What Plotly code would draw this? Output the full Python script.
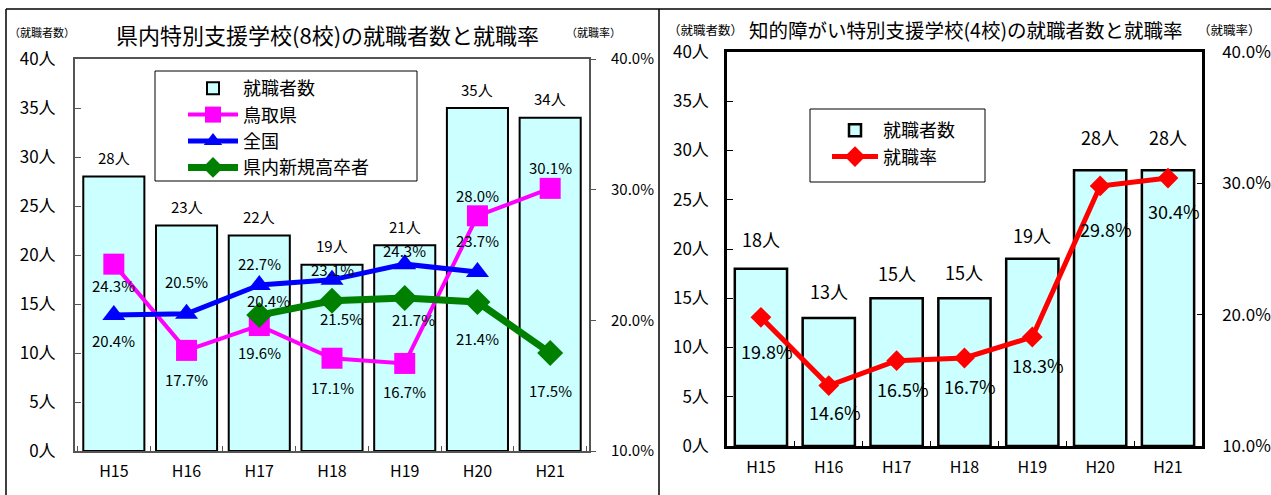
import plotly.graph_objects as go

# ---- data -------------------------------------------------------------
years = ["H15", "H16", "H17", "H18", "H19", "H20", "H21"]

# 県内特別支援学校(8校)
employed_8 = [28, 23, 22, 19, 21, 35, 34]
rate_tottori = [24.3, 17.7, 19.6, 17.1, 16.7, 28.0, 30.1]
rate_national = [20.4, 20.5, 22.7, 23.1, 24.3, 23.7]
years_national = years[:6]
rate_highschool = [20.4, 21.5, 21.7, 21.4, 17.5]
years_highschool = years[2:]

# 知的障がい特別支援学校(4校)
employed_4 = [18, 13, 15, 15, 19, 28, 28]
rate_4 = [19.8, 14.6, 16.5, 16.7, 18.3, 29.8, 30.4]

count_ticks = [0, 5, 10, 15, 20, 25, 30, 35, 40]
count_tick_text = [f"{v}人" for v in count_ticks]
rate_ticks = [10, 20, 30, 40]
rate_tick_text = [f"{v:.1f}%" for v in rate_ticks]

# ---- styling ----------------------------------------------------------
W, H = 1271, 495
FONT = "Noto Sans CJK JP"
BAR_FILL = "#CCFFFF"


def fx(p):
    return p / W


def fy(p):
    return 1 - p / H


# label offsets in px (positive = upwards), x nudges in px
off_tottori = [-21, -29, -27, -29, -28, 20, 21]
off_national = [-25, 32, 22, 10, 14, 31]
off_high = [15, -18, -21, -36, -37]
dx_high = [9, 9, 9, 0, 0]
off_rate4 = [-34, -26, -28, -28, -28, -43, -33]
off_bar4 = [30, 27, 25, 26, 24, 33, 33]

fig = go.Figure()

# left chart -------------------------------------------------------------
fig.add_trace(go.Bar(
    x=years, y=employed_8, name="就職者数",
    marker=dict(color=BAR_FILL, line=dict(color="black", width=2)),
    xaxis="x", yaxis="y", legend="legend",
))
fig.add_trace(go.Scatter(
    x=years, y=rate_tottori, name="鳥取県", mode="lines+markers",
    line=dict(color="#FF00FF", width=4),
    marker=dict(symbol="square", size=21, color="#FF00FF"),
    xaxis="x", yaxis="y2", legend="legend",
))
fig.add_trace(go.Scatter(
    x=years_national, y=rate_national, name="全国", mode="lines+markers",
    line=dict(color="#0000FF", width=5),
    marker=dict(symbol="triangle-up", size=20, color="#0000FF"),
    xaxis="x", yaxis="y2", legend="legend",
))
fig.add_trace(go.Scatter(
    x=years_highschool, y=rate_highschool, name="県内新規高卒者",
    mode="lines+markers",
    line=dict(color="#008000", width=7),
    marker=dict(symbol="diamond", size=20, color="#008000"),
    xaxis="x", yaxis="y2", legend="legend",
))

# right chart ------------------------------------------------------------
fig.add_trace(go.Bar(
    x=years, y=employed_4, name="就職者数", width=0.77,
    marker=dict(color=BAR_FILL, line=dict(color="black", width=2.5)),
    xaxis="x3", yaxis="y3", legend="legend2",
))
fig.add_trace(go.Scatter(
    x=years, y=rate_4, name="就職率", mode="lines+markers",
    line=dict(color="#FF0000", width=5),
    marker=dict(symbol="diamond", size=16, color="#FF0000"),
    xaxis="x3", yaxis="y4", legend="legend2",
))

annotations = []


def label(x, y, text, xref, yref, size, yshift, xshift=0):
    annotations.append(dict(
        x=x, y=y, xref=xref, yref=yref, text=text, showarrow=False,
        yshift=yshift, xshift=xshift,
        font=dict(family=FONT, size=size, color="black"),
    ))


for x, v in zip(years, employed_8):
    label(x, v, f"{v}人", "x", "y", 15, 19)
for x, v, o in zip(years, rate_tottori, off_tottori):
    label(x, v, f"{v:.1f}%", "x", "y2", 15, o)
for x, v, o in zip(years_national, rate_national, off_national):
    label(x, v, f"{v:.1f}%", "x", "y2", 15, o)
for x, v, o, d in zip(years_highschool, rate_highschool, off_high, dx_high):
    label(x, v, f"{v:.1f}%", "x", "y2", 15, o, d)

for x, v, o in zip(years, employed_4, off_bar4):
    label(x, v, f"{v}人", "x3", "y3", 18, o)
for x, v, o in zip(years, rate_4, off_rate4):
    label(x, v, f"{v:.1f}%", "x3", "y4", 18, o, 6)


# titles and axis captions
def paper_text(xp, yp, text, size):
    annotations.append(dict(
        x=fx(xp), y=fy(yp), xref="paper", yref="paper", text=text,
        showarrow=False, xanchor="center", yanchor="middle",
        font=dict(family=FONT, size=size, color="black"),
    ))


paper_text(327, 34, "県内特別支援学校(8校)の就職者数と就職率", 22)
paper_text(42, 32, "（就職者数）", 11)
paper_text(593, 32, "（就職率）", 11)
paper_text(966, 29, "知的障がい特別支援学校(4校)の就職者数と就職率", 19.5)
paper_text(705, 29, "（就職者数）", 12.5)
paper_text(1229, 29, "（就職率）", 12.5)

# outer frame and legend boxes
shapes = [
    dict(type="line", xref="paper", yref="paper", x0=fx(6), x1=fx(6),
         y0=fy(9), y1=0, line=dict(color="black", width=1.5)),
    dict(type="line", xref="paper", yref="paper", x0=fx(6), x1=1,
         y0=fy(9), y1=fy(9), line=dict(color="black", width=1.5)),
    dict(type="line", xref="paper", yref="paper", x0=fx(659), x1=fx(659),
         y0=fy(9), y1=0, line=dict(color="black", width=1.5)),
    dict(type="rect", xref="paper", yref="paper", x0=fx(155), x1=fx(417),
         y0=fy(181), y1=fy(71), line=dict(color="black", width=1),
         fillcolor="white", layer="above"),
    dict(type="rect", xref="paper", yref="paper", x0=fx(810), x1=fx(985),
         y0=fy(182), y1=fy(109), line=dict(color="black", width=1),
         fillcolor="white", layer="above"),
]

tick_font = dict(family=FONT, size=17, color="black")
rate_font = dict(family=FONT, size=15, color="black")

LEFT_LINE = "#555555"

fig.update_layout(
    width=W, height=H,
    margin=dict(l=0, r=0, t=0, b=0, autoexpand=False),
    paper_bgcolor="white", plot_bgcolor="white",
    bargap=0.16,
    showlegend=True,
    font=dict(family=FONT, color="black"),
    annotations=annotations,
    shapes=shapes,
    xaxis=dict(
        domain=[fx(75), fx(589)], anchor="y", automargin=False,
        type="category", tickson="boundaries", ticks="inside", ticklen=5,
        tickcolor=LEFT_LINE, showline=True, linecolor=LEFT_LINE, linewidth=2,
        mirror=True, showgrid=False, tickfont=dict(family=FONT, size=16),
        ticklabelstandoff=5,
    ),
    yaxis=dict(
        domain=[fy(451), fy(59)], anchor="x", automargin=False,
        range=[0, 40], tickvals=count_ticks, ticktext=count_tick_text,
        ticks="inside", ticklen=6, tickcolor=LEFT_LINE,
        showline=True, linecolor=LEFT_LINE, linewidth=2,
        showgrid=False, zeroline=False, tickfont=tick_font,
        ticklabelstandoff=14,
    ),
    yaxis2=dict(
        overlaying="y", side="right", anchor="x", automargin=False,
        range=[10, 40], tickvals=rate_ticks, ticktext=rate_tick_text,
        ticks="outside", ticklen=5, tickcolor=LEFT_LINE,
        showline=True, linecolor=LEFT_LINE, linewidth=2,
        showgrid=False, zeroline=False, tickfont=rate_font,
        ticklabelstandoff=12,
    ),
    xaxis3=dict(
        domain=[fx(727), fx(1202)], anchor="y3", automargin=False,
        type="category", tickson="boundaries", ticks="inside", ticklen=5,
        tickcolor="black", showline=True, linecolor="black", linewidth=2.5,
        mirror=True, showgrid=False, tickfont=dict(family=FONT, size=16),
        ticklabelstandoff=5,
    ),
    yaxis3=dict(
        domain=[fy(446), fy(52)], anchor="x3", automargin=False,
        range=[0, 40], tickvals=count_ticks, ticktext=count_tick_text,
        ticks="inside", ticklen=6, tickcolor="black",
        showline=True, linecolor="black", linewidth=2.5,
        showgrid=False, zeroline=False, tickfont=tick_font,
        ticklabelstandoff=12,
    ),
    yaxis4=dict(
        overlaying="y3", side="right", anchor="x3", automargin=False,
        range=[10, 40], tickvals=rate_ticks, ticktext=rate_tick_text,
        ticks="inside", ticklen=5, tickcolor="black",
        showline=True, linecolor="black", linewidth=2.5,
        showgrid=False, zeroline=False, tickfont=tick_font,
        ticklabelstandoff=14,
    ),
    legend=dict(
        x=fx(183), y=fy(70), xanchor="left", yanchor="top",
        bgcolor="rgba(0,0,0,0)", borderwidth=0,
        font=dict(family=FONT, size=18, color="black"),
        itemwidth=50, tracegroupgap=0,
    ),
    legend2=dict(
        x=fx(827), y=fy(112), xanchor="left", yanchor="top",
        bgcolor="rgba(0,0,0,0)", borderwidth=0,
        font=dict(family=FONT, size=18, color="black"),
        itemwidth=46, tracegroupgap=0,
    ),
)

fig.write_html("out.html")
